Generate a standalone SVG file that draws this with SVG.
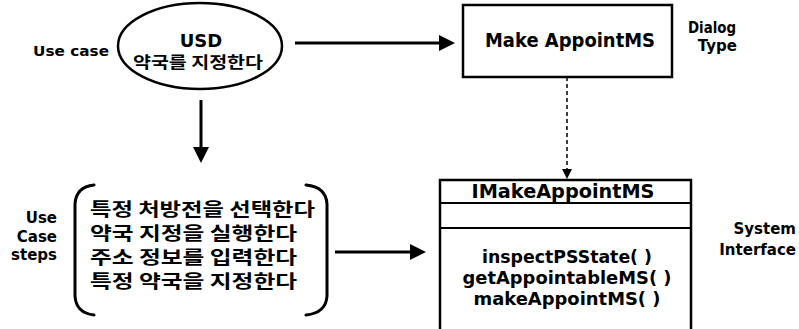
<svg xmlns="http://www.w3.org/2000/svg" width="799" height="329" viewBox="0 0 799 329">
  <style>
    .lat { font-family: "DejaVu Sans", "Liberation Sans", sans-serif; font-weight: bold; fill: #000; }
    .kr { font-family: "Noto Sans CJK KR", "Noto Sans", sans-serif; font-weight: bold; fill: #000; }
    .shape { fill: #fff; stroke: #000; stroke-width: 2.5; }
    .rule { stroke: #000; stroke-width: 2; fill: none; }
    .flow { stroke: #000; stroke-width: 3; fill: none; }
    .dep { stroke: #000; stroke-width: 1.5; stroke-dasharray: 4 3; fill: none; }
    .brace { stroke: #000; stroke-width: 3; fill: none; stroke-linecap: round; }
  </style>
  <defs>
    <marker id="head" viewBox="0 0 16 16" refX="0" refY="8" markerWidth="16" markerHeight="16" markerUnits="userSpaceOnUse" orient="auto">
      <path d="M0,0 L16,8 L0,16 z" fill="#000"/>
    </marker>
    <marker id="headSmall" viewBox="0 0 10 10" refX="0" refY="5" markerWidth="10" markerHeight="10" markerUnits="userSpaceOnUse" orient="auto">
      <path d="M0,0 L10,5 L0,10 z" fill="#000"/>
    </marker>
  </defs>

  <rect width="799" height="329" fill="#fff"/>

  <!-- side labels -->
  <g id="labels">
    <text class="lat" x="109" y="56" font-size="14" text-anchor="end" textLength="76" lengthAdjust="spacingAndGlyphs">Use case</text>
    <text class="lat" x="712" y="33" font-size="15" text-anchor="middle" textLength="48" lengthAdjust="spacingAndGlyphs">Dialog</text>
    <text class="lat" x="737" y="51" font-size="15" text-anchor="end">Type</text>
    <text class="lat" x="57" y="223" font-size="15" text-anchor="end">Use</text>
    <text class="lat" x="57" y="242" font-size="15" text-anchor="end">Case</text>
    <text class="lat" x="57" y="260" font-size="15" text-anchor="end">steps</text>
    <text class="lat" x="796" y="234" font-size="15" text-anchor="end">System</text>
    <text class="lat" x="796" y="255" font-size="15" text-anchor="end">Interface</text>
  </g>

  <!-- use case ellipse -->
  <g id="usecase">
    <ellipse class="shape" cx="200" cy="46" rx="82" ry="43"/>
    <text class="lat" x="201" y="47" font-size="18" text-anchor="middle">USD</text>
    <text class="kr" x="198" y="68" font-size="16" text-anchor="middle" textLength="130" lengthAdjust="spacingAndGlyphs">약국를 지정한다</text>
  </g>

  <!-- dialog type box -->
  <g id="dialog">
    <rect class="shape" x="463" y="5" width="209" height="72"/>
    <text class="lat" x="570" y="47" font-size="19" text-anchor="middle" textLength="170" lengthAdjust="spacingAndGlyphs">Make AppointMS</text>
  </g>

  <!-- use case steps in brackets -->
  <g id="steps">
    <path class="brace" d="M94,185 Q76,187 75,204 L75,296 Q76,313 94,315"/>
    <path class="brace" d="M306,185 Q326,187 327,204 L327,296 Q326,313 306,315"/>
    <text class="kr" x="90" y="216" font-size="18" textLength="225" lengthAdjust="spacingAndGlyphs">특정 처방전을 선택한다</text>
    <text class="kr" x="90" y="240" font-size="18" textLength="207" lengthAdjust="spacingAndGlyphs">약국 지정을 실행한다</text>
    <text class="kr" x="90" y="264" font-size="18" textLength="207" lengthAdjust="spacingAndGlyphs">주소 정보를 입력한다</text>
    <text class="kr" x="90" y="288" font-size="18" textLength="207" lengthAdjust="spacingAndGlyphs">특정 약국을 지정한다</text>
  </g>

  <!-- system interface class box -->
  <g id="interface">
    <rect class="shape" x="440" y="180" width="251" height="160"/>
    <line class="rule" x1="440" y1="203" x2="691" y2="203"/>
    <line class="rule" x1="440" y1="228" x2="691" y2="228"/>
    <text class="lat" x="563" y="198" font-size="19" text-anchor="middle" textLength="183" lengthAdjust="spacingAndGlyphs">IMakeAppointMS</text>
    <text class="lat" x="567" y="263" font-size="17" text-anchor="middle" textLength="170" lengthAdjust="spacingAndGlyphs">inspectPSState( )</text>
    <text class="lat" x="567" y="284" font-size="17" text-anchor="middle" textLength="209" lengthAdjust="spacingAndGlyphs">getAppointableMS( )</text>
    <text class="lat" x="567" y="305" font-size="17" text-anchor="middle" textLength="187" lengthAdjust="spacingAndGlyphs">makeAppointMS( )</text>
  </g>

  <!-- connectors -->
  <g id="connectors">
    <line class="flow" x1="295" y1="43" x2="439" y2="43" marker-end="url(#head)"/>
    <line class="flow" x1="201" y1="100" x2="201" y2="147" marker-end="url(#head)"/>
    <line class="flow" x1="335" y1="252" x2="410" y2="252" marker-end="url(#head)"/>
    <line class="dep" x1="567" y1="77" x2="567" y2="169" marker-end="url(#headSmall)"/>
  </g>
</svg>
